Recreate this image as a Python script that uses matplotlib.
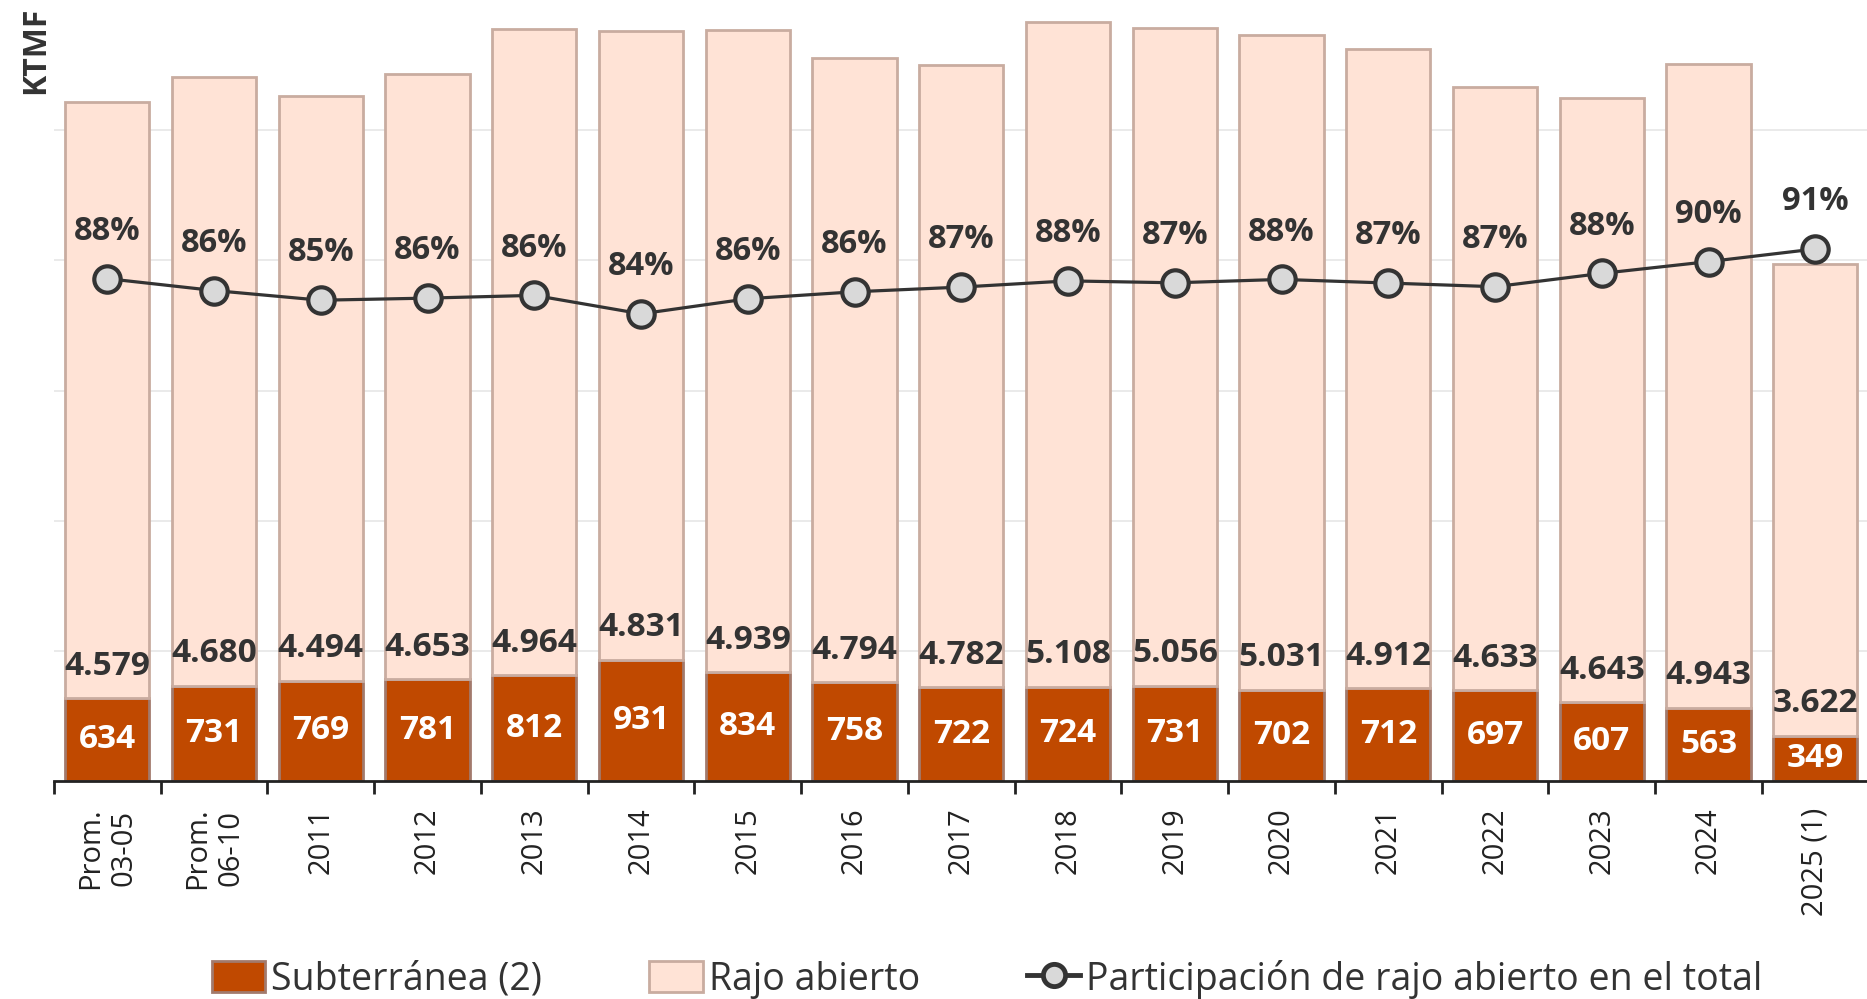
import matplotlib
matplotlib.use("Agg")
import matplotlib.pyplot as plt
import numpy as np
from matplotlib.lines import Line2D
from matplotlib.patches import Patch

plt.rcParams['font.family'] = ['Open Sans', 'DejaVu Sans']

categorias = ["Prom.\n03-05", "Prom.\n06-10", "2011", "2012", "2013", "2014", "2015",
              "2016", "2017", "2018", "2019", "2020", "2021", "2022", "2023", "2024", "2025 (1)"]
subterranea = [634, 731, 769, 781, 812, 931, 834, 758, 722, 724, 731, 702, 712, 697, 607, 563, 349]
rajo_abierto = [4579, 4680, 4494, 4653, 4964, 4831, 4939, 4794, 4782, 5108, 5056, 5031, 4912,
                4633, 4643, 4943, 3622]

sub = np.array(subterranea)
rajo = np.array(rajo_abierto)
participacion = rajo / (sub + rajo)

c_dark = "#C04900"
c_light = "#FFE3D6"
c_text = "#333333"

fig = plt.figure(figsize=(18.67, 9.99), dpi=100)
ax = fig.add_axes([0.0289, 0.2182, 0.972, 0.7818])
x = np.arange(len(categorias))
w = 0.79

ax.bar(x, sub, w, color=c_dark, edgecolor="#A27A6C", linewidth=2, zorder=2)
ax.bar(x, rajo, w, bottom=sub, color=c_light, edgecolor="#C9ACA0", linewidth=2, zorder=2)

for i in range(len(x)):
    ax.text(x[i], sub[i] / 2, str(sub[i]), ha="center", va="center", color="white",
            fontsize=24, fontweight="bold", zorder=4)
    ax.annotate(f"{rajo[i]:,}".replace(",", "."), (x[i], sub[i]), xytext=(0, 23),
                textcoords="offset points", ha="center", va="center", color=c_text,
                fontsize=24, fontweight="bold", zorder=4)

ax.set_xlim(-0.5, len(x) - 0.5)
ax.set_ylim(0, 6000)
ax.set_yticks([1000, 2000, 3000, 4000, 5000])
ax.yaxis.grid(True, color="#E6E6E6", linewidth=1.2, zorder=0)
ax.set_axisbelow(True)
ax.tick_params(axis="y", length=0, labelleft=False)
for s in ["top", "right", "left"]:
    ax.spines[s].set_visible(False)
ax.spines["bottom"].set_linewidth(2)
ax.spines["bottom"].set_color("#222222")

ax.set_xticks(np.arange(-0.5, len(x) - 0.5, 1.0))
ax.set_xticklabels([])
ax.tick_params(axis="x", which="major", length=9, width=2, color="#222222")
ax.set_xticks(x, minor=True)
ax.set_xticklabels(categorias, minor=True, rotation=90, fontsize=21, color="#222222")
ax.tick_params(axis="x", which="minor", length=0, pad=19)

ax2 = ax.twinx()
ax2.set_ylim(0.3076, 1.195)
ax2.plot(x, participacion, color=c_text, linewidth=2.3, marker="o", markersize=19,
         markerfacecolor="#D9D9D9", markeredgecolor=c_text, markeredgewidth=3, zorder=5)
for i in range(len(x)):
    ax2.annotate(f"{participacion[i] * 100:.0f}%", (x[i], participacion[i]), xytext=(0, 34),
                 textcoords="offset points", ha="center", va="center", color=c_text,
                 fontsize=23.5, fontweight="bold")
ax2.axis("off")

fig.text(0.019, 0.993, "KTMF", rotation=90, ha="center", va="top", fontsize=23,
         fontweight="bold", color=c_text)

handles = [
    Patch(facecolor=c_dark, edgecolor="#A27A6C", linewidth=2),
    Patch(facecolor=c_light, edgecolor="#C9ACA0", linewidth=2),
    Line2D([0], [0], color=c_text, linewidth=3.5, marker="o", markersize=16,
           markerfacecolor="#D9D9D9", markeredgecolor=c_text, markeredgewidth=3.5),
]
labels = ["Subterránea (2)", "Rajo abierto", "Participación de rajo abierto en el total"]
fig.legend(handles, labels, loc="center", bbox_to_anchor=(0.5288, 0.02), ncol=3, frameon=False,
           fontsize=27, handlelength=1.43, handleheight=0.9, handletextpad=0.16,
           columnspacing=2.85, labelcolor=c_text)

fig.savefig("out.png", dpi=100)
